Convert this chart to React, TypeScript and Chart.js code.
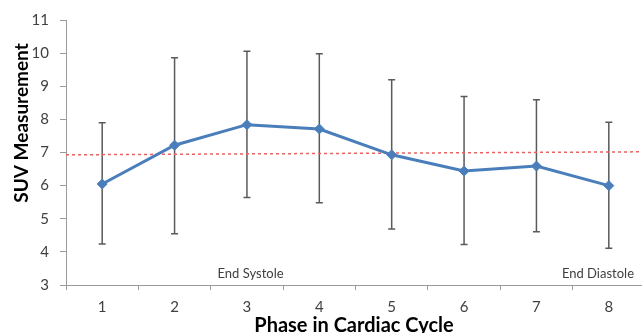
import React, { useEffect, useRef } from "react";
import { Chart, registerables } from "chart.js";

Chart.register(...registerables);

const phases = ["1", "2", "3", "4", "5", "6", "7", "8"];
const suvMean = [6.05, 7.22, 7.84, 7.71, 6.93, 6.44, 6.59, 6.0];
const suvUpper = [7.9, 9.86, 10.06, 9.98, 9.2, 8.69, 8.59, 7.91];
const suvLower = [4.24, 4.55, 5.64, 5.48, 4.69, 4.22, 4.61, 4.11];
const refLineX = [0.5, 8.43];
const refLineY = [6.93, 7.02];
const noteLabels = ["End Systole", "End Diastole"];
const notePhase = [3.05, 7.85];
const noteValue = [3.33, 3.33];
const yTicks = [3, 4, 5, 6, 7, 8, 9, 10, 11];

const FONT = "Lato, 'Open Sans', sans-serif";

export default function App() {
  const ref = useRef<HTMLCanvasElement>(null);
  useEffect(() => {
    const canvas = ref.current!;
    const extras = {
      id: "extras",
      beforeDatasetsDraw(chart: any) {
        const ctx = chart.ctx;
        const xs = chart.scales.x;
        const ys = chart.scales.y;
        ctx.save();
        ctx.strokeStyle = "#5a5a5a";
        ctx.lineWidth = 1.5;
        suvMean.forEach((_, i) => {
          const x = xs.getPixelForValue(i);
          const yt = ys.getPixelForValue(suvUpper[i]);
          const yb = ys.getPixelForValue(suvLower[i]);
          ctx.beginPath();
          ctx.moveTo(x, yt);
          ctx.lineTo(x, yb);
          ctx.moveTo(x - 3.5, yt);
          ctx.lineTo(x + 3.5, yt);
          ctx.moveTo(x - 3.5, yb);
          ctx.lineTo(x + 3.5, yb);
          ctx.stroke();
        });
        ctx.restore();
      },
      afterDraw(chart: any) {
        const ctx = chart.ctx;
        const x2 = chart.scales.x2;
        const ys = chart.scales.y;
        ctx.save();
        ctx.fillStyle = "#404040";
        ctx.font = `13px ${FONT}`;
        ctx.textAlign = "center";
        ctx.textBaseline = "middle";
        noteLabels.forEach((t, i) => {
          ctx.fillText(t, x2.getPixelForValue(notePhase[i]), ys.getPixelForValue(noteValue[i]));
        });
        ctx.fillStyle = "#000";
        ctx.font = `bold 20px ${FONT}`;
        ctx.textBaseline = "alphabetic";
        ctx.fillText("Phase in Cardiac Cycle", 354, 332);
        ctx.textBaseline = "middle";
        ctx.font = `bold 19px ${FONT}`;
        ctx.translate(22, 123);
        ctx.rotate(-Math.PI / 2);
        ctx.fillText("SUV Measurement", 0, 0);
        ctx.restore();
      },
    };
    const chart = new Chart(canvas, {
      type: "line",
      data: {
        labels: phases,
        datasets: [
          {
            data: suvMean,
            borderColor: "#4a7ebb",
            backgroundColor: "#4a7ebb",
            borderWidth: 3,
            pointStyle: "rectRot",
            pointRadius: 5,
            pointBorderWidth: 1,
            tension: 0,
            order: 0,
            xAxisID: "x",
          },
          {
            data: refLineX.map((x, i) => ({ x, y: refLineY[i] })),
            borderColor: "#e8625f",
            borderWidth: 1.5,
            borderDash: [3, 3],
            pointRadius: 0,
            order: 1,
            xAxisID: "x2",
          } as any,
        ],
      },
      plugins: [extras],
      options: {
        animation: false,
        responsive: false,
        devicePixelRatio: 1,
        layout: { padding: { top: 11, left: 0, right: 1, bottom: 0 } },
        plugins: { legend: { display: false }, tooltip: { enabled: false } },
        scales: {
          x: {
            type: "category",
            offset: true,
            grid: { drawOnChartArea: false, drawTicks: true, tickLength: 5, color: "#9a9a9a", offset: true },
            border: { color: "#9a9a9a", width: 1 },
            ticks: { color: "#404040", font: { family: FONT, size: 15 }, padding: 8, maxRotation: 0 },
            afterFit(s: any) {
              s.height = 48;
            },
          },
          x2: {
            type: "linear",
            display: false,
            min: 0.5,
            max: 8.5,
          },
          y: {
            min: 3,
            max: 11,
            afterBuildTicks(s: any) {
              s.ticks = yTicks.map((v) => ({ value: v }));
            },
            grid: { drawOnChartArea: false, drawTicks: true, tickLength: 6, color: "#9a9a9a" },
            border: { color: "#9a9a9a", width: 1 },
            ticks: { color: "#404040", font: { family: FONT, size: 15 }, padding: 11 },
            afterFit(s: any) {
              s.width = 66;
            },
          },
        },
      },
    });
    return () => chart.destroy();
  }, []);
  return (
    <div style={{ position: "fixed", left: 0, top: 0, width: 642, height: 333, overflow: "hidden", background: "#fff" }}>
      <canvas ref={ref} width={651} height={333} style={{ display: "block" }} />
    </div>
  );
}
